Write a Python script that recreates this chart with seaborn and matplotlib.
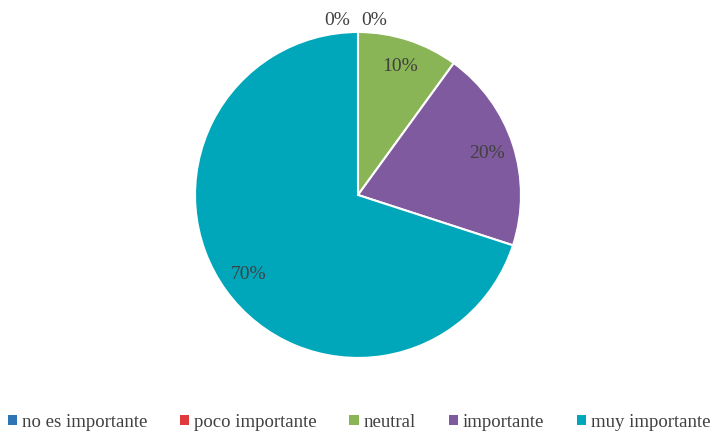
import matplotlib
matplotlib.use("Agg")
import matplotlib.pyplot as plt
import seaborn as sns
from matplotlib.patches import Patch

categories = ["no es importante", "poco importante", "neutral", "importante", "muy importante"]
values = [0, 0, 10, 20, 70]
colors = ["#2E75B6", "#E0393E", "#8AB556", "#7F5A9E", "#00A7BA"]

sns.set_theme(style="white")
plt.rcParams["font.family"] = ["Liberation Serif", "DejaVu Serif"]

fig = plt.figure(figsize=(7.18, 4.33), dpi=100)
ax = fig.add_axes([0.2716, 0.1732, 0.454, 0.753])

wedges, texts, autotexts = ax.pie(
    values, colors=colors, startangle=90, counterclock=False,
    autopct=lambda p: f"{p:.0f}%", pctdistance=0.83,
    wedgeprops=dict(edgecolor="white", linewidth=1.5),
    textprops=dict(color="#404040", fontsize=14),
)
ax.set_xlim(-1, 1)
ax.set_ylim(-1, 1)
ax.set_aspect("equal")

# zero-valued slices: labels placed just above the top of the pie
zero_offsets = [-0.13, 0.10]
zi = 0
for v, t in zip(values, autotexts):
    if v == 0:
        t.set_position((zero_offsets[zi], 1.07))
        t.set_clip_on(False)
        zi += 1

handles = [Patch(facecolor=c, edgecolor="none") for c in colors]
fig.legend(handles, categories, loc="center", bbox_to_anchor=(0.5, 0.025), ncol=5,
           frameon=False, fontsize=13.5, handlelength=0.5, handleheight=0.5,
           handletextpad=0.25, columnspacing=1.75, labelcolor="#404040")

fig.savefig("out.png", dpi=100)
